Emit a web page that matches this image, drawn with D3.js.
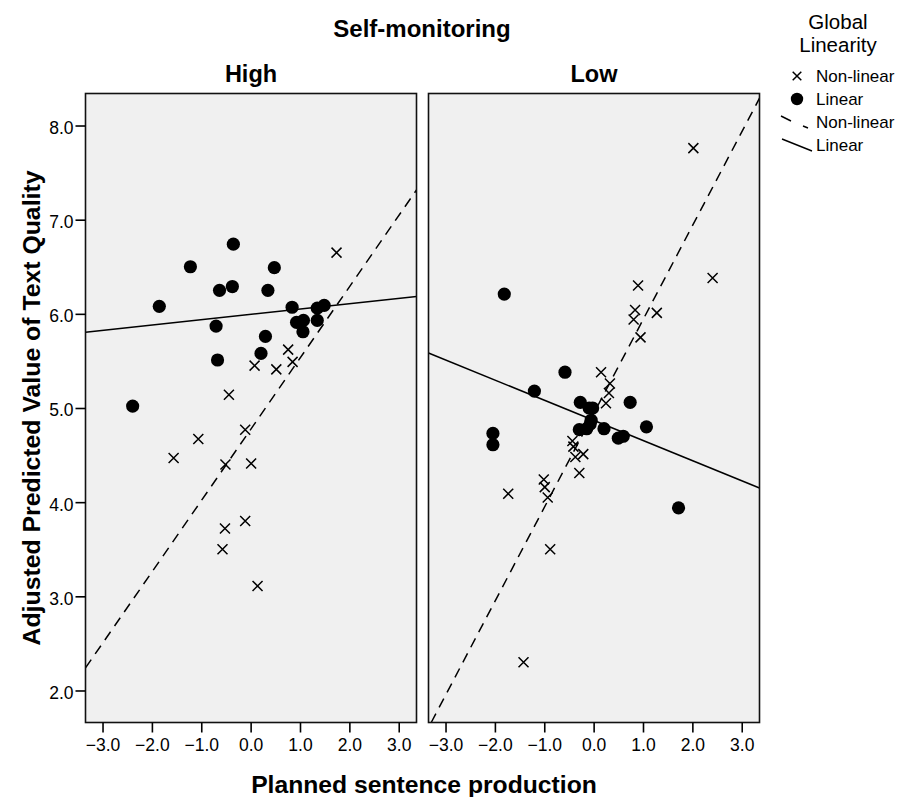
<!DOCTYPE html>
<html><head><meta charset="utf-8">
<script src="https://cdn.jsdelivr.net/npm/d3@7"></script>
<style>body{margin:0;background:#fff}text{font-family:"Liberation Sans",Arial,sans-serif}</style>
</head><body>
<svg id="c" width="899" height="797"></svg>
<script>
const panels = ["High", "Low"];
const xTicks = [-3, -2, -1, 0, 1, 2, 3];
const yTicks = [2, 3, 4, 5, 6, 7, 8];

// High panel, Linear (filled circles)
const highLinX = [-0.35,-1.22,0.48,-0.63,-0.37,0.35,-1.85,0.84,1.35,1.49,-0.70,0.93,1.07,1.35,1.06,0.30,0.21,-0.67,-2.39];
const highLinY = [6.74,6.50,6.49,6.25,6.29,6.25,6.08,6.07,6.06,6.09,5.87,5.91,5.93,5.93,5.81,5.76,5.58,5.51,5.02];
// High panel, Non-linear (crosses)
const highNonX = [1.74,0.76,0.08,0.52,0.85,-0.44,-0.11,-1.06,-1.56,-0.51,0.01,-0.11,-0.52,-0.57,0.14];
const highNonY = [6.65,5.62,5.45,5.41,5.49,5.14,4.77,4.67,4.47,4.40,4.41,3.80,3.72,3.50,3.11];
// Low panel, Linear
const lowLinX = [-1.81,-0.58,-1.20,-0.27,-0.09,-0.02,0.74,-0.05,-0.29,-0.14,-0.07,0.21,1.07,0.50,0.60,-2.04,-2.04,1.72];
const lowLinY = [6.21,5.38,5.18,5.06,5.00,5.00,5.06,4.87,4.77,4.78,4.83,4.78,4.80,4.68,4.70,4.73,4.61,3.94];
// Low panel, Non-linear
const lowNonX = [2.02,2.41,0.90,0.84,0.81,1.28,0.95,0.15,0.33,0.31,0.25,-0.43,-0.41,-0.21,-0.37,-0.29,-1.01,-0.99,-0.93,-1.73,-0.88,-1.42];
const lowNonY = [7.76,6.38,6.30,6.04,5.94,6.01,5.75,5.38,5.26,5.16,5.05,4.65,4.59,4.51,4.48,4.31,4.24,4.16,4.05,4.09,3.50,2.30];

// Fit lines: [intercept, slope] per panel
const fitLinear = [[5.995, 0.0566], [4.869, -0.2139]];
const fitNonLinear = [[4.772, 0.757], [4.94, 0.997]];

const legendLabels = ["Non-linear", "Linear", "Non-linear", "Linear"];

const svg = d3.select("#c");
const panelX0 = [85.5, 428.5];
const panelW = 331;
const pTop = 93.5, pBottom = 722.5;
const FONT = "Liberation Sans, Arial, sans-serif";

const y = d3.scaleLinear().domain([1.66, 8.34]).range([pBottom, pTop]);

const series = [
  {lx: highLinX, ly: highLinY, nx: highNonX, ny: highNonY},
  {lx: lowLinX, ly: lowLinY, nx: lowNonX, ny: lowNonY}
];

function cross(g, cx, cy, s) {
  g.append("path").attr("d", `M${cx-s},${cy-s}L${cx+s},${cy+s}M${cx-s},${cy+s}L${cx+s},${cy-s}`)
    .attr("stroke", "#000").attr("stroke-width", 1.5).attr("fill", "none");
}

panels.forEach((name, i) => {
  const x = d3.scaleLinear().domain([-3.345, 3.36]).range([panelX0[i], panelX0[i] + panelW]);
  const g = svg.append("g");
  g.append("rect").attr("x", panelX0[i]).attr("y", pTop).attr("width", panelW).attr("height", pBottom - pTop)
    .attr("fill", "#f0f0f0");
  const clipId = "clip" + i;
  svg.append("clipPath").attr("id", clipId).append("rect")
    .attr("x", panelX0[i]).attr("y", pTop).attr("width", panelW).attr("height", pBottom - pTop);
  const pg = g.append("g").attr("clip-path", `url(#${clipId})`);
  const dom = x.domain();
  const [a1, b1] = fitLinear[i];
  pg.append("line").attr("x1", x(dom[0])).attr("y1", y(a1 + b1 * dom[0]))
    .attr("x2", x(dom[1])).attr("y2", y(a1 + b1 * dom[1]))
    .attr("stroke", "#000").attr("stroke-width", 1.5);
  const [a2, b2] = fitNonLinear[i];
  const xs0 = (y.domain()[0] - a2) / b2, xs1 = dom[1];
  const lo = Math.max(dom[0], xs0);
  pg.append("line").attr("x1", x(lo)).attr("y1", y(a2 + b2 * lo))
    .attr("x2", x(xs1)).attr("y2", y(a2 + b2 * xs1))
    .attr("stroke", "#000").attr("stroke-width", 1.5).attr("stroke-dasharray", "10,7");
  const s = series[i];
  s.nx.forEach((v, k) => cross(pg, x(v), y(s.ny[k]), 5));
  s.lx.forEach((v, k) => pg.append("circle").attr("cx", x(v)).attr("cy", y(s.ly[k])).attr("r", 6.6).attr("fill", "#000"));
  g.append("rect").attr("x", panelX0[i]).attr("y", pTop).attr("width", panelW).attr("height", pBottom - pTop)
    .attr("fill", "none").attr("stroke", "#111").attr("stroke-width", 1.6);

  // x axis
  const xa = svg.append("g").attr("transform", `translate(0,${pBottom})`)
    .call(d3.axisBottom(x).tickValues(xTicks).tickFormat(d3.format(".1f")).tickSize(10).tickPadding(6));
  xa.attr("font-size", null).attr("font-family", null);
  xa.select(".domain").remove();
  xa.selectAll("line").attr("stroke", "#000").attr("stroke-width", 1.6);
  xa.selectAll("text").attr("fill", "#000").style("font-size", "17.5px").style("font-family", FONT);

  g.append("text").attr("x", panelX0[i] + panelW / 2).attr("y", 82).attr("text-anchor", "middle")
    .style("font-size", "23.5px").attr("font-weight", "bold").text(name);
});

// y axis
const ya = svg.append("g").attr("transform", `translate(${panelX0[0]},0)`)
  .call(d3.axisLeft(y).tickValues(yTicks).tickFormat(d3.format(".1f")).tickSize(10).tickPadding(2));
ya.attr("font-size", null).attr("font-family", null);
ya.select(".domain").remove();
ya.selectAll("line").attr("stroke", "#000").attr("stroke-width", 1.6);
ya.selectAll("text").attr("fill", "#000").attr("dy", "0.45em").style("font-size", "17.5px").style("font-family", FONT);

svg.append("text").attr("x", 422).attr("y", 36.5).attr("text-anchor", "middle")
  .style("font-size", "24px").attr("font-weight", "bold").text("Self-monitoring");
svg.append("text").attr("x", 424).attr("y", 793).attr("text-anchor", "middle")
  .style("font-size", "24.7px").attr("font-weight", "bold").text("Planned sentence production");
svg.append("text").attr("transform", "translate(40,408) rotate(-90)").attr("text-anchor", "middle")
  .style("font-size", "24.8px").attr("font-weight", "bold").text("Adjusted Predicted Value of Text Quality");

// legend
svg.append("text").attr("x", 838).attr("y", 29).attr("text-anchor", "middle").style("font-size", "20.5px").text("Global");
svg.append("text").attr("x", 838).attr("y", 52).attr("text-anchor", "middle").style("font-size", "20.5px").text("Linearity");
const lg = svg.append("g");
cross(lg, 797, 76, 4.3);
lg.append("circle").attr("cx", 797).attr("cy", 99).attr("r", 6.2).attr("fill", "#000");
lg.append("path").attr("d", "M781,116L791,121M803,126L808,128").attr("stroke", "#000").attr("stroke-width", 1.4);
lg.append("path").attr("d", "M782,139L812,151").attr("stroke", "#000").attr("stroke-width", 1.4);
[82, 105, 128, 151].forEach((yy, k) => {
  lg.append("text").attr("x", 816).attr("y", yy).style("font-size", "17px").text(legendLabels[k]);
});
</script>
</body></html>
